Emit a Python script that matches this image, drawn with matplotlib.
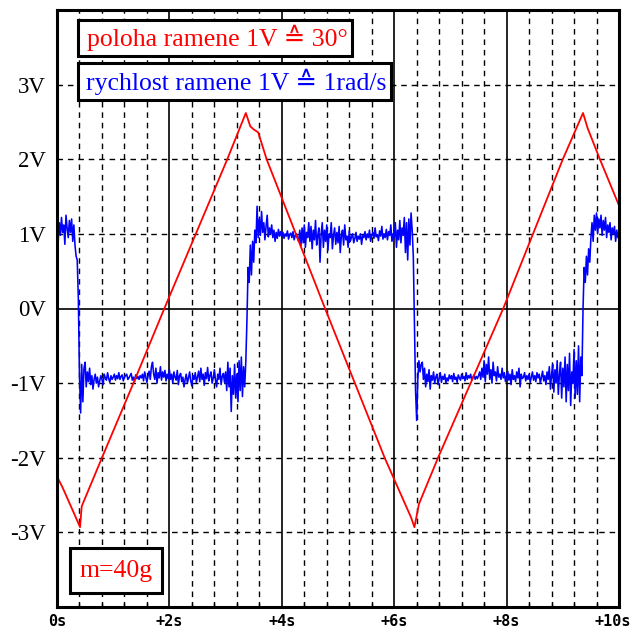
import numpy as np
import matplotlib
matplotlib.use("Agg")
import matplotlib.pyplot as plt
from matplotlib.patches import Rectangle
from matplotlib.ticker import MultipleLocator
from matplotlib.transforms import ScaledTranslation

# ---------------- data ----------------
# red: arm position (V), vertices
t_red = [0.00, 0.10, 0.20, 0.30, 0.41, 0.44, 0.80, 1.36, 1.91, 2.47, 3.03, 3.36,
         3.44, 3.50, 3.58, 3.73, 4.77, 5.83, 6.30, 6.36, 6.44, 6.78, 7.94, 9.00,
         9.36, 9.44, 9.66, 10.00]
v_red = [-2.25, -2.40, -2.57, -2.74, -2.93, -2.65, -2.00, -1.00, 0.00, 1.00, 2.00, 2.62,
         2.44, 2.40, 2.36, 2.00, 0.00, -2.00, -2.80, -2.93, -2.62, -2.00, 0.00, 2.00,
         2.62, 2.42, 2.00, 1.38]

# blue: arm velocity (V), sampled every 0.02 s from t = 0
blue_step = 0.02
v_blue = [
    1.05, 0.88, 1.15, 0.98, 1.22, 1.02, 1.12, 0.86, 1.25, 1.08, 0.95, 1.18, 1.02, 1.20, 0.90, 1.12, 0.85, 0.70, 0.65, 0.12, -0.90, -1.40, -0.75, -1.25, -0.80,
    -0.72, -1.05, -0.85, -0.98, -0.80, -1.02, -0.90, -1.08, -0.95, -0.88, -1.00, -0.92, -1.05, -0.97, -0.90, -0.95, -1.02, -0.88, -0.93, -0.96, -0.86, -0.94, -0.99, -0.90, -0.95,
    -0.92, -0.88, -0.96, -0.90, -0.94, -0.86, -0.95, -0.91, -0.89, -0.97, -0.92, -0.90, -0.88, -0.95, -0.93, -0.90, -0.87, -0.96, -0.92, -0.98, -0.89, -0.94, -0.91, -0.95, -0.90,
    -0.93, -0.88, -0.97, -0.85, -0.92, -0.99, -0.90, -0.84, -0.95, -0.78, -0.72, -0.88, -0.95, -0.80, -1.00, -0.86, -0.93, -0.78, -0.96, -0.85, -0.92, -0.83, -0.97, -0.88, -0.94,
    -0.82, -0.95, -0.88, -1.00, -0.85, -0.92, -0.96, -0.83, -1.02, -0.90, -0.87, -0.98, -0.92, -1.05, -0.95, -0.88, -1.00, -0.93, -0.85, -0.97, -1.04, -0.90, -0.95, -0.86, -0.99,
    -0.92, -0.84, -0.98, -0.80, -0.95, -0.88, -1.03, -0.86, -0.94, -0.79, -0.97, -0.90, -0.85, -1.00, -0.93, -0.82, -0.96, -1.05, -0.88, -0.95, -0.80, -1.02, -0.91, -0.87, -0.99,
    -0.85, -1.10, -0.72, -1.05, -0.80, -1.38, -0.90, -1.15, -0.75, -1.20, -0.88, -1.25, -0.70, -1.10, -0.65, -1.18, -0.78, -1.05, -0.70, -0.15, 0.55, 0.35, 0.85, 0.45, 0.90,
    0.62, 1.05, 0.88, 1.37, 0.95, 1.20, 0.98, 1.30, 1.02, 1.15, 0.92, 1.10, 1.25, 0.96, 1.08, 1.00, 1.12, 0.95, 1.05, 0.90, 1.02, 0.94, 1.06, 0.97, 1.03,
    0.96, 1.02, 0.94, 1.00, 0.97, 1.04, 0.93, 0.99, 1.01, 0.95, 1.03, 0.92, 0.98, 1.00, 0.94, 0.90, 1.05, 0.84, 1.08, 0.88, 1.12, 0.82, 1.02, 0.95, 1.15,
    0.90, 1.10, 0.80, 1.05, 0.92, 1.18, 0.85, 0.98, 1.08, 0.62, 1.00, 1.15, 0.82, 1.05, 0.90, 1.12, 0.78, 1.00, 0.95, 1.15, 0.80, 0.98, 1.08, 0.86, 1.02,
    0.88, 1.10, 0.75, 0.98, 1.05, 0.85, 1.12, 0.92, 0.97, 0.82, 1.04, 0.90, 0.96, 1.00, 0.88, 0.94, 1.02, 0.90, 0.97, 0.93, 1.00, 0.86, 0.98, 0.95, 1.03,
    0.92, 1.00, 0.95, 1.05, 0.90, 0.98, 1.02, 0.94, 1.08, 0.96, 0.99, 0.91, 1.04, 0.97, 1.10, 0.93, 1.00, 0.95, 1.06, 0.92, 1.03, 0.98, 1.12, 0.90, 1.00,
    0.95, 1.15, 0.82, 1.05, 0.92, 1.18, 0.88, 1.08, 0.98, 1.22, 0.75, 1.15, 0.65, 1.20, 0.85, 1.28, 1.05, 0.70, -0.20, -1.10, -1.50, -0.95, -0.70, -0.85, -0.75,
    -0.72, -0.95, -0.80, -1.05, -0.88, -0.98, -0.82, -1.08, -0.90, -0.96, -0.85, -1.00, -0.92, -0.88, -1.02, -0.94, -0.86, -0.99, -0.91, -0.95, -0.88, -1.00, -0.93, -0.97, -0.89,
    -0.94, -0.90, -0.98, -0.87, -0.95, -0.92, -0.99, -0.89, -0.93, -0.96, -0.88, -0.94, -0.91, -0.97, -0.86, -0.95, -0.90, -0.93, -0.88, -0.96, -0.92, -0.89, -0.95, -0.91, -0.94,
    -0.90, -0.85, -0.95, -0.80, -0.92, -0.70, -0.98, -0.75, -0.88, -0.65, -0.95, -0.82, -1.00, -0.72, -0.90, -0.85, -0.97, -0.78, -0.92, -0.88, -0.95, -0.80, -0.93, -0.86, -0.98,
    -0.90, -0.84, -0.96, -0.88, -1.02, -0.82, -0.95, -0.90, -0.98, -0.85, -0.93, -0.80, -1.05, -0.88, -0.94, -0.92, -0.86, -0.97, -0.90, -0.95, -0.88, -0.99, -0.92, -0.85, -0.96,
    -0.90, -0.98, -0.86, -0.93, -0.88, -1.00, -0.92, -0.84, -0.97, -0.90, -1.02, -0.85, -0.95, -0.78, -1.08, -0.88, -0.75, -1.12, -0.82, -1.00, -0.70, -1.15, -0.88, -0.72, -1.20,
    -0.80, -1.05, -0.65, -1.25, -0.75, -1.10, -0.60, -1.30, -0.85, -1.00, -0.55, -1.20, -0.70, -1.15, -0.50, -1.25, -0.65, -0.90, 0.00, 0.55, 0.35, 0.70, 0.45, 0.80, 0.62,
    0.95, 1.15, 0.90, 1.25, 1.05, 1.28, 1.00, 1.20, 1.08, 1.25, 0.98, 1.18, 1.05, 1.22, 0.95, 1.12, 1.02, 1.15, 0.92, 1.08, 1.00, 1.10, 0.90, 1.05, 0.95,
    1.00,
]

x_ticks = [0, 2, 4, 6, 8, 10]
x_labels = ["0s", "+2s", "+4s", "+6s", "+8s", "+10s"]
y_ticks = [-3, -2, -1, 0, 1, 2, 3]
y_labels = ["-3V", "-2V", "-1V", "0V", "1V", "2V", "3V"]

label_pos = "poloha ramene 1V \u2259 30\u00b0"
label_vel = "rychlost ramene 1V \u2259 1rad/s"
label_mass = "m=40g"

# ---------------- figure ----------------
W, H = 633, 630
fig = plt.figure(figsize=(W / 100, H / 100), dpi=100)
L, R, T, B = 57, 619, 10, 607
ax = fig.add_axes([L / W, 1 - B / H, (R - L) / W, (B - T) / H])

ax.set_xlim(0, 10)
ax.set_ylim(-4, 4)

serif = ["Liberation Serif", "DejaVu Sans"]

# grid
dash = (0, (4, 3.5))
for xv in np.arange(0.4, 10, 0.4):
    if abs(xv / 2 - round(xv / 2)) < 1e-6:
        ax.axvline(xv, color="black", lw=1.2, zorder=1)
    else:
        ax.axvline(xv, color="black", lw=1.0, ls=dash, zorder=1)
for yv in [-3, -2, -1, 1, 2, 3]:
    ax.axhline(yv, color="black", lw=1.0, ls=dash, zorder=1)
ax.axhline(0, color="black", lw=1.2, zorder=1)

# data
t_blue = np.arange(len(v_blue)) * blue_step
ax.plot(t_blue, v_blue, color="#0000ff", lw=1.15, zorder=3)
ax.plot(t_red, v_red, color="#ff0000", lw=1.3, zorder=4)

# ticks
ax.set_xticks(x_ticks)
ax.set_xticklabels(x_labels, family="DejaVu Sans Mono", fontweight="bold", fontsize=11)
ax.xaxis.set_minor_locator(MultipleLocator(0.4))
ax.tick_params(axis="x", which="major", direction="in", length=0, pad=5)
ax.tick_params(axis="x", which="minor", direction="in", length=3, width=1, top=False)
last = ax.get_xticklabels()[-1]
last.set_transform(last.get_transform() + ScaledTranslation(-6 / 100, 0, fig.dpi_scale_trans))
ax.set_yticks(y_ticks)
ax.set_yticklabels(y_labels, family=serif, fontsize=16.5)
ax.tick_params(axis="y", length=0, pad=8)

for s in ax.spines.values():
    s.set_linewidth(2.2)
    s.set_zorder(10)

# label boxes (pixel coords -> axes coords)
def px_box(x0, y0, x1, y1):
    ax0 = (x0 - L) / (R - L)
    ax1 = (x1 - L) / (R - L)
    ay0 = (B - y1) / (B - T)
    ay1 = (B - y0) / (B - T)
    return ax0, ay0, ax1 - ax0, ay1 - ay0

def label_box(x0, y0, x1, y1, text, color, left_pad):
    bx, by, bw, bh = px_box(x0, y0, x1, y1)
    ax.add_patch(Rectangle((bx, by), bw, bh, transform=ax.transAxes,
                           facecolor="white", edgecolor="black", lw=2.2, zorder=8))
    ax.text(bx + left_pad / (R - L), by + bh / 2, text, transform=ax.transAxes, color=color,
            family=serif, fontsize=18.5, ha="left", va="center", zorder=9)

label_box(78, 20, 352, 56, label_pos, "#ff0000", 9)
label_box(78, 63, 391, 100, label_vel, "#0000ff", 8)
label_box(70, 548, 162, 593, label_mass, "#ff0000", 9)

fig.savefig("out.png", dpi=100, facecolor="white")
